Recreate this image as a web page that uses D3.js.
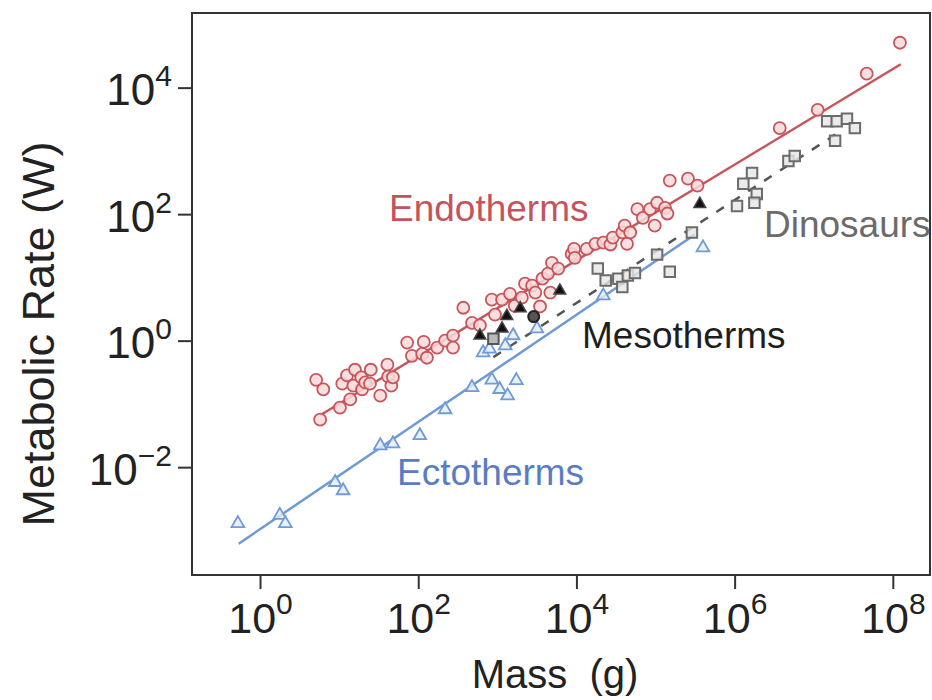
<!DOCTYPE html>
<html>
<head>
<meta charset="utf-8">
<script src="https://cdn.jsdelivr.net/npm/d3@7/dist/d3.min.js"></script>
<style>
  body { margin: 0; background: #fff; }
  text { font-family: "Liberation Sans", Arial, sans-serif; }
</style>
</head>
<body>
<svg id="chart" width="932" height="700"></svg>
<script>
// all values are log10 (mass in g, metabolic rate in W)
const endoLogMass = [0.71, 0.80, 0.76, 1.01, 1.04, 1.10, 1.14, 1.18, 1.20, 1.28, 1.29, 1.33, 1.40, 1.39, 1.52, 1.61, 1.62, 1.66, 1.68,
  1.86, 1.92, 2.05, 2.07, 2.11, 2.24, 2.34, 2.44, 2.44, 2.57, 2.68, 2.78, 2.93, 2.97, 3.06, 3.16, 3.22, 3.31, 3.35, 3.44, 3.48,
  3.54, 3.57, 3.67, 3.64, 3.69, 3.77, 3.94, 3.97, 4.13, 4.24, 4.34, 4.43, 4.46, 4.58, 4.61, 4.64, 4.68, 4.77, 4.84, 4.93,
  5.02, 4.99, 5.12, 5.15, 5.18, 5.41, 5.53, 6.57, 7.05, 7.67, 8.09, 3.98];
const endoLogRate = [-0.62, -0.77, -1.25, -1.06, -0.68, -0.55, -0.93, -0.71, -0.46, -0.58, -0.77, -0.66, -0.46, -0.68, -0.87, -0.38, -0.57, -0.71, -0.58,
  -0.03, -0.24, -0.21, -0.02, -0.27, -0.11, 0.00, 0.08, -0.11, 0.52, 0.28, 0.24, 0.65, 0.41, 0.65, 0.74, 0.55, 0.68, 0.90, 0.87, 0.76,
  0.54, 0.98, 0.76, 1.06, 1.23, 1.14, 1.37, 1.45, 1.45, 1.53, 1.55, 1.52, 1.63, 1.71, 1.82, 1.53, 1.71, 2.08, 1.94, 2.08,
  2.18, 1.82, 2.10, 2.01, 2.53, 2.56, 2.45, 3.36, 3.65, 4.22, 4.71, 1.31];

const ectoLogMass = [-0.28, 0.25, 0.32, 0.95, 1.05, 1.52, 1.68, 2.02, 2.34, 2.68, 2.93, 3.03, 3.13, 3.24, 2.82, 2.90, 3.10, 3.20, 3.50, 4.34, 5.60];
const ectoLogRate = [-2.89, -2.76, -2.89, -2.24, -2.37, -1.66, -1.63, -1.50, -1.09, -0.74, -0.62, -0.77, -0.87, -0.63, -0.19, -0.13, -0.08, 0.08, 0.19, 0.71, 1.47];

const dinoLogMass = [4.27, 4.37, 4.53, 4.58, 4.65, 4.74, 5.02, 5.18, 5.46, 6.03, 6.11, 6.22, 6.28, 6.25, 6.68, 6.76, 7.17, 7.29, 7.42, 7.52, 7.27];
const dinoLogRate = [1.14, 0.95, 0.98, 0.85, 1.03, 1.07, 1.36, 1.09, 1.71, 2.13, 2.48, 2.65, 2.32, 2.18, 2.84, 2.92, 3.47, 3.47, 3.51, 3.36, 3.16];

// mesotherms: triangles, plus one circle and one square
const mesoLogMass = [2.78, 3.06, 3.12, 3.29, 3.79, 5.56];
const mesoLogRate = [0.08, 0.19, 0.39, 0.51, 0.79, 2.16];
const mesoCircle = [3.46, 0.38];
const mesoSquare = [2.95, 0.03];

// fitted lines, log10 end points [mass, rate]
const endoFit = [[0.76, -1.18], [8.10, 4.37]];
const ectoFit = [[-0.27, -3.21], [5.50, 1.68]];
const mesoFit = [[2.95, -0.26], [7.30, 3.28]];

const xTicks = [0, 2, 4, 6, 8];
const yTicks = [-2, 0, 2, 4];

const red = "#c8555b", blue = "#6f9ad6", gray = "#6b6b6b";

const svg = d3.select("#chart");
const margin = { top: 13, right: 2, bottom: 125, left: 192 };
const W = 932, H = 700;

const x = d3.scaleLog()
  .domain([Math.pow(10, -0.86), Math.pow(10, 8.47)])
  .range([margin.left, W - margin.right]);
const y = d3.scaleLog()
  .domain([Math.pow(10, -3.705), Math.pow(10, 5.18)])
  .range([H - margin.bottom, margin.top]);

const px = v => x(Math.pow(10, v));
const py = v => y(Math.pow(10, v));

// axes
const xAxis = svg.append("g")
  .attr("transform", `translate(0,${H - margin.bottom})`)
  .call(d3.axisBottom(x).tickValues(xTicks.map(e => Math.pow(10, e))).tickSize(14).tickFormat(""));
xAxis.select(".domain").remove();
xAxis.selectAll(".tick line").attr("stroke", "#333").attr("stroke-width", 2);
xAxis.selectAll(".tick").each(function (d, i) {
  const t = d3.select(this).append("text")
    .attr("y", 58).attr("fill", "#222").attr("text-anchor", "middle")
    .style("font-size", "43px");
  t.append("tspan").text("10");
  t.append("tspan").attr("dy", -19).style("font-size", "30px").text(xTicks[i]);
});

const yAxis = svg.append("g")
  .attr("transform", `translate(${margin.left},0)`)
  .call(d3.axisLeft(y).tickValues(yTicks.map(e => Math.pow(10, e))).tickSize(14).tickFormat(""));
yAxis.select(".domain").remove();
yAxis.selectAll(".tick line").attr("stroke", "#333").attr("stroke-width", 2);
yAxis.selectAll(".tick").each(function (d, i) {
  const t = d3.select(this).append("text")
    .attr("x", -20).attr("y", 17).attr("fill", "#222").attr("text-anchor", "end")
    .style("font-size", "44px");
  t.append("tspan").text("10");
  t.append("tspan").attr("dy", -19).style("font-size", "30px").text(yTicks[i] < 0 ? "\u2212" + (-yTicks[i]) : yTicks[i]);
});

// frame
svg.append("rect")
  .attr("x", margin.left).attr("y", margin.top)
  .attr("width", W - margin.right - margin.left)
  .attr("height", H - margin.bottom - margin.top)
  .attr("fill", "none").attr("stroke", "#333").attr("stroke-width", 2);

// axis titles
svg.append("text")
  .attr("x", 555).attr("y", 688).attr("text-anchor", "middle")
  .attr("fill", "#222").style("font-size", "40px")
  .attr("xml:space", "preserve")
  .text("Mass  (g)");
svg.append("text")
  .attr("transform", `translate(54,${(margin.top + H - margin.bottom) / 2 + 40}) rotate(-90)`)
  .attr("text-anchor", "middle")
  .attr("fill", "#222").style("font-size", "45px")
  .text("Metabolic Rate (W)");

// fit lines
const line = d3.line().x(d => px(d[0])).y(d => py(d[1]));
svg.append("path").datum(endoFit).attr("d", line).attr("stroke", red).attr("stroke-width", 2.5).attr("fill", "none");
svg.append("path").datum(ectoFit).attr("d", line).attr("stroke", blue).attr("stroke-width", 2.5).attr("fill", "none");
svg.append("path").datum(mesoFit).attr("d", line).attr("stroke", "#555").attr("stroke-width", 2.5)
  .attr("stroke-dasharray", "9,10").attr("fill", "none");

// points
const tri = d3.symbol().type(d3.symbolTriangle).size(70);
const sq = d3.symbol().type(d3.symbolSquare).size(110);

svg.append("g").selectAll("path")
  .data(d3.zip(ectoLogMass, ectoLogRate))
  .join("path")
  .attr("d", tri)
  .attr("transform", d => `translate(${px(d[0])},${py(d[1])})`)
  .attr("fill", "#e3ecf8").attr("fill-opacity", 0.8)
  .attr("stroke", blue).attr("stroke-width", 1.8);

svg.append("g").selectAll("path")
  .data(d3.zip(dinoLogMass, dinoLogRate))
  .join("path")
  .attr("d", sq)
  .attr("transform", d => `translate(${px(d[0])},${py(d[1])})`)
  .attr("fill", "#e6e6e6").attr("fill-opacity", 0.8)
  .attr("stroke", gray).attr("stroke-width", 2);

svg.append("g").selectAll("circle")
  .data(d3.zip(endoLogMass, endoLogRate))
  .join("circle")
  .attr("cx", d => px(d[0])).attr("cy", d => py(d[1])).attr("r", 6)
  .attr("fill", "#f8dada").attr("fill-opacity", 0.85)
  .attr("stroke", red).attr("stroke-width", 1.8);

svg.append("path")
  .attr("d", sq)
  .attr("transform", `translate(${px(mesoSquare[0])},${py(mesoSquare[1])})`)
  .attr("fill", "#b9b9b9").attr("stroke", "#555").attr("stroke-width", 2);
svg.append("circle")
  .attr("cx", px(mesoCircle[0])).attr("cy", py(mesoCircle[1])).attr("r", 5.5)
  .attr("fill", "#555").attr("stroke", "#222").attr("stroke-width", 2);
svg.append("g").selectAll("path")
  .data(d3.zip(mesoLogMass, mesoLogRate))
  .join("path")
  .attr("d", d3.symbol().type(d3.symbolTriangle).size(60))
  .attr("transform", d => `translate(${px(d[0])},${py(d[1])})`)
  .attr("fill", "#111").attr("stroke", "#444").attr("stroke-width", 1.5);

// group labels
const labels = [
  { text: "Endotherms", x: 389, y: 221, color: "#c4545c" },
  { text: "Dinosaurs", x: 764, y: 237, color: "#6b6b6b" },
  { text: "Mesotherms", x: 582, y: 348, color: "#1e1e1e" },
  { text: "Ectotherms", x: 397, y: 485, color: "#5a7cc2" }
];
svg.append("g").selectAll("text")
  .data(labels)
  .join("text")
  .attr("x", d => d.x).attr("y", d => d.y)
  .attr("fill", d => d.color)
  .style("font-size", "37px")
  .text(d => d.text);
</script>
</body>
</html>
